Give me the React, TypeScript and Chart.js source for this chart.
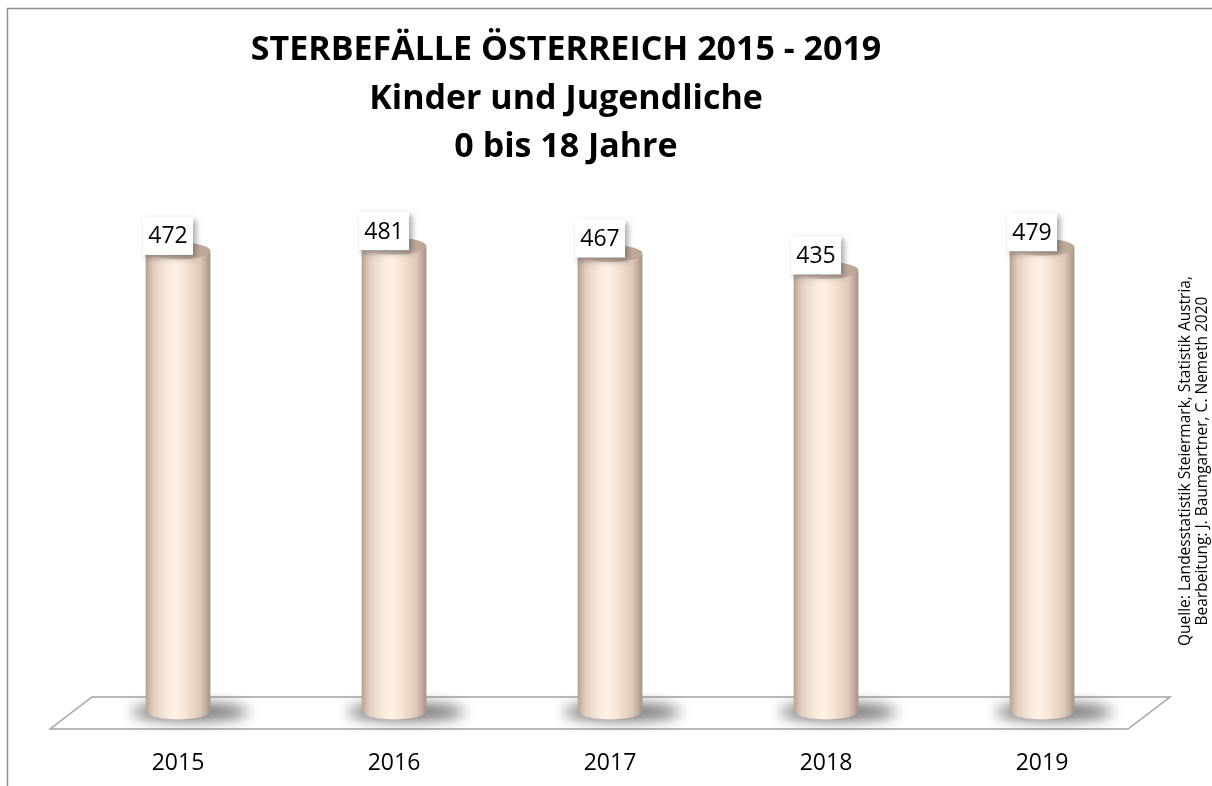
import React, { useEffect, useRef } from "react";
import { Chart, registerables } from "chart.js";

Chart.register(...registerables);

const YEARS = ["2015", "2016", "2017", "2018", "2019"];
const DEATHS = [472, 481, 467, 435, 479];
const TITLE_LINES = ["STERBEFÄLLE ÖSTERREICH 2015 - 2019", "Kinder und Jugendliche", "0 bis 18 Jahre"];
const SOURCE_LINES = [
  "Quelle: Landesstatistik Steiermark, Statistik Austria,",
  "Bearbeitung: J. Baumgartner, C. Nemeth 2020",
];
const Y_MIN = -400;
const Y_MAX = 758;

const FONT = "'Open Sans', 'Noto Sans', sans-serif";

const cylinderPlugin = {
  id: "cylinders",
  afterDatasetsDraw(chart: any) {
    const ctx: CanvasRenderingContext2D = chart.ctx;
    const area = chart.chartArea;
    const bottom = area.bottom;
    const meta = chart.getDatasetMeta(0);

    ctx.save();
    // outer border
    ctx.strokeStyle = "#8f8f8f";
    ctx.lineWidth = 1.5;
    ctx.beginPath();
    ctx.moveTo(7.5, chart.height + 2);
    ctx.lineTo(7.5, 8.5);
    ctx.lineTo(chart.width + 2, 8.5);
    ctx.stroke();

    // title
    ctx.fillStyle = "#000";
    ctx.textAlign = "center";
    ctx.textBaseline = "alphabetic";
    ctx.font = `bold 34px ${FONT}`;
    const titleBase = [60, 109, 157];
    TITLE_LINES.forEach((t, i) => ctx.fillText(t, 566, titleBase[i]));

    // source (rotated)
    ctx.font = `15.5px ${FONT}`;
    ctx.textBaseline = "middle";
    const srcX = [1186, 1203];
    SOURCE_LINES.forEach((t, i) => {
      ctx.save();
      ctx.translate(srcX[i], 461);
      ctx.rotate(-Math.PI / 2);
      ctx.fillText(t, 0, 0);
      ctx.restore();
    });

    // floor
    ctx.beginPath();
    ctx.moveTo(area.left + 22, bottom - 14);
    ctx.lineTo(area.right + 20, bottom - 14);
    ctx.lineTo(area.right - 22, bottom + 18);
    ctx.lineTo(area.left - 20, bottom + 18);
    ctx.closePath();
    ctx.fillStyle = "#ffffff";
    ctx.fill();
    ctx.strokeStyle = "#a3a3a3";
    ctx.lineWidth = 1.5;
    ctx.stroke();

    // shadows
    meta.data.forEach((el: any) => {
      ctx.save();
      ctx.filter = "blur(7px)";
      ctx.fillStyle = "rgba(0,0,0,0.55)";
      ctx.beginPath();
      ctx.ellipse(el.x + 12, bottom + 1, el.width * 0.9, 9, 0, 0, Math.PI * 2);
      ctx.fill();
      ctx.restore();
    });

    // cylinders
    meta.data.forEach((el: any) => {
      const cx = el.x;
      const rx = el.width / 2;
      const ry = 8.5;
      const top = el.y;
      const g = ctx.createLinearGradient(cx - rx, 0, cx + rx, 0);
      g.addColorStop(0, "#b6a192");
      g.addColorStop(0.12, "#e2cfc1");
      g.addColorStop(0.3, "#f6e6d8");
      g.addColorStop(0.45, "#fff2e5");
      g.addColorStop(0.62, "#f7e4d5");
      g.addColorStop(0.85, "#dcc7b8");
      g.addColorStop(1, "#a99484");
      ctx.beginPath();
      ctx.moveTo(cx - rx, top);
      ctx.lineTo(cx - rx, bottom);
      ctx.ellipse(cx, bottom, rx, ry, 0, Math.PI, 0, true);
      ctx.lineTo(cx + rx, top);
      ctx.closePath();
      ctx.fillStyle = g;
      ctx.fill();

      const gt = ctx.createLinearGradient(cx - rx, 0, cx + rx, 0);
      gt.addColorStop(0, "#e3d2c5");
      gt.addColorStop(0.5, "#d4c0b2");
      gt.addColorStop(1, "#b9a392");
      ctx.beginPath();
      ctx.ellipse(cx, top, rx, ry, 0, 0, Math.PI * 2);
      ctx.fillStyle = gt;
      ctx.fill();
    });

    // value labels
    meta.data.forEach((el: any, i: number) => {
      const bx = el.x - 10;
      const by = el.y - 15;
      const w = 50;
      const h = 38;
      ctx.save();
      ctx.shadowColor = "rgba(0,0,0,0.35)";
      ctx.shadowBlur = 6;
      ctx.shadowOffsetX = 3;
      ctx.shadowOffsetY = 3;
      ctx.fillStyle = "#ffffff";
      ctx.fillRect(bx - w / 2, by - h / 2, w, h);
      ctx.restore();
      ctx.fillStyle = "#000";
      ctx.font = `23px ${FONT}`;
      ctx.textAlign = "center";
      ctx.textBaseline = "middle";
      ctx.fillText(String(DEATHS[i]), bx, by + 1);
    });
    ctx.restore();
  },
};

export default function App() {
  const ref = useRef<HTMLCanvasElement>(null);
  useEffect(() => {
    document.body.style.margin = "0";
    const canvas = ref.current;
    if (!canvas) return;
    const chart = new Chart(canvas, {
      type: "bar",
      data: {
        labels: YEARS,
        datasets: [
          {
            data: DEATHS,
            backgroundColor: "rgba(0,0,0,0)",
            borderWidth: 0,
            categoryPercentage: 1,
            barPercentage: 0.3,
          },
        ],
      },
      options: {
        responsive: false,
        animation: false,
        devicePixelRatio: 1,
        layout: { padding: { left: 70, right: 62, top: 100, bottom: 10 } },
        plugins: {
          legend: { display: false },
          tooltip: { enabled: false },
          title: { display: false },
        },
        scales: {
          x: {
            grid: { display: false, drawTicks: false },
            border: { display: false },
            ticks: { padding: 39, color: "#000", font: { family: FONT, size: 23 } },
            afterFit: (s: any) => {
              s.height = 65;
            },
          },
          y: { display: false, min: Y_MIN, max: Y_MAX },
        },
      },
      plugins: [cylinderPlugin],
    } as any);
    return () => chart.destroy();
  }, []);
  return (
    <div style={{ width: 1212, height: 786, background: "#fff" }}>
      <canvas ref={ref} width={1212} height={786} style={{ display: "block" }} />
    </div>
  );
}
